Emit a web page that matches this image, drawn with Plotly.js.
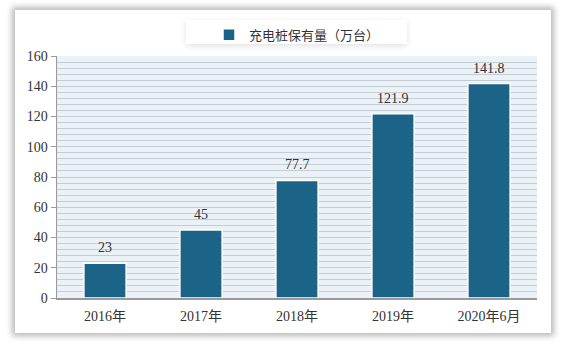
<!DOCTYPE html>
<html><head><meta charset="utf-8">
<script src="https://cdn.plot.ly/plotly-3.0.1.min.js"></script>
<style>
html,body{margin:0;padding:0;background:#fff;}
#wrap{position:relative;width:563px;height:345px;overflow:hidden;}
#card{position:absolute;left:15px;top:10px;width:536px;height:323px;background:#fff;box-shadow:0 0 6px 3px rgba(0,0,0,0.28);}
#legbox{position:absolute;left:186px;top:20px;width:221px;height:24px;background:#fff;box-shadow:0 2px 6px rgba(0,0,0,0.12);}
#chart{position:absolute;left:0;top:0;width:563px;height:345px;}
</style></head>
<body><div id="wrap"><div id="card"></div><div id="legbox"></div><div id="chart"></div></div>
<script>
const categories = ["2016年","2017年","2018年","2019年","2020年6月"];
const values = [23, 45, 77.7, 121.9, 141.8];
const labels = ["23","45","77.7","121.9","141.8"];
const seriesName = "充电桩保有量（万台）";

const serif = "'Liberation Serif','DejaVu Serif','Noto Sans CJK SC',serif";
const trace = {
  type: 'bar', x: categories, y: values, name: seriesName,
  marker: {color: '#1b6487', line: {color: '#ffffff', width: 1.5}},
  showlegend: true
};
const annotations = categories.map((c, i) => ({
  x: c, y: values[i], text: labels[i], showarrow: false,
  yanchor: 'bottom', yshift: 6,
  font: {family: serif, size: 14, color: '#333'}
}));
const layout = {
  width: 563, height: 345,
  margin: {l: 57, r: 26, t: 56, b: 47},
  paper_bgcolor: 'rgba(0,0,0,0)', plot_bgcolor: '#eaf1f7',
  bargap: 0.56,
  showlegend: true,
  annotations: annotations,
  legend: {orientation: 'h', x: 0.5, xanchor: 'center', y: 1.15, yanchor: 'top',
    bgcolor: 'rgba(0,0,0,0)', font: {family: "'Noto Sans CJK SC',sans-serif", size: 13, color: '#333'}},
  xaxis: {showgrid: false, showline: true, linecolor: '#999', linewidth: 1.5, ticks: '',
    tickfont: {family: serif, size: 14, color: '#333'}, ticklabelstandoff: 5},
  yaxis: {range: [0, 160], dtick: 20, showline: true, linecolor: '#999', linewidth: 1.5,
    ticks: 'outside', ticklen: 5, tickcolor: '#999', gridcolor: '#c5ccd3',
    minor: {dtick: 4, showgrid: true, gridcolor: '#c5ccd3', gridwidth: 1},
    tickfont: {family: serif, size: 14, color: '#333'}, zeroline: false}
};
Plotly.newPlot('chart', [trace], layout, {displayModeBar: false, staticPlot: true});
</script></body></html>
